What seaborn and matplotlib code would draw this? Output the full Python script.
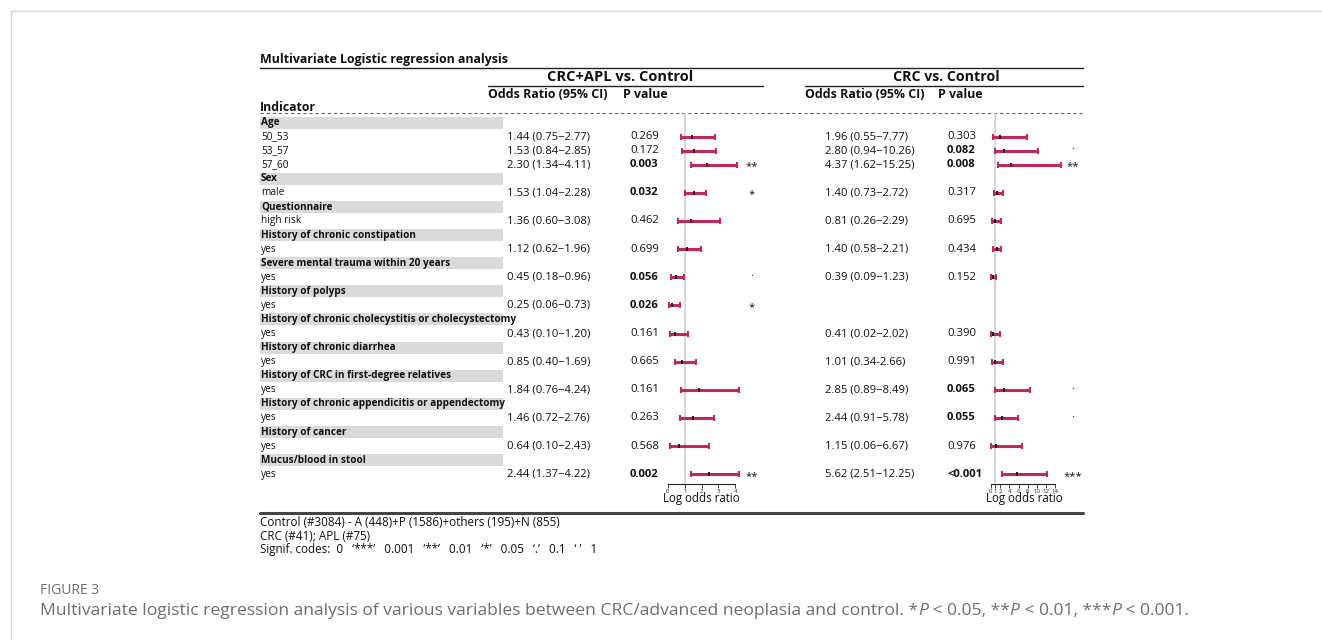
import numpy as np
import pandas as pd
import matplotlib
matplotlib.use("Agg")
import matplotlib.pyplot as plt
import seaborn as sns
from matplotlib.patches import Rectangle

sns.set_theme(style="white")
plt.rcParams["font.family"] = ["Open Sans", "DejaVu Sans"]

# ---------------- data ----------------
groups = [
    ("Age", ["50_53", "53_57", "57_60"]),
    ("Sex", ["male"]),
    ("Questionnaire", ["high risk"]),
    ("History of chronic constipation", ["yes"]),
    ("Severe mental trauma within 20 years", ["yes"]),
    ("History of polyps", ["yes"]),
    ("History of chronic cholecystitis or cholecystectomy", ["yes"]),
    ("History of chronic diarrhea", ["yes"]),
    ("History of CRC in first-degree relatives", ["yes"]),
    ("History of chronic appendicitis or appendectomy", ["yes"]),
    ("History of cancer", ["yes"]),
    ("Mucus/blood in stool", ["yes"]),
]

# CRC+APL vs. Control
apl_or = [1.44, 1.53, 2.30, 1.53, 1.36, 1.12, 0.45, 0.25, 0.43, 0.85, 1.84, 1.46, 0.64, 2.44]
apl_lo = [0.75, 0.84, 1.34, 1.04, 0.60, 0.62, 0.18, 0.06, 0.10, 0.40, 0.76, 0.72, 0.10, 1.37]
apl_hi = [2.77, 2.85, 4.11, 2.28, 3.08, 1.96, 0.96, 0.73, 1.20, 1.69, 4.24, 2.76, 2.43, 4.22]
apl_p = ["0.269", "0.172", "0.003", "0.032", "0.462", "0.699", "0.056", "0.026",
         "0.161", "0.665", "0.161", "0.263", "0.568", "0.002"]
apl_sig = ["", "", "**", "*", "", "", "\u00b7", "*", "", "", "", "", "", "**"]

# CRC vs. Control (no estimate for history of polyps)
crc_or = [1.96, 2.80, 4.37, 1.40, 0.81, 1.40, 0.39, np.nan, 0.41, 1.01, 2.85, 2.44, 1.15, 5.62]
crc_lo = [0.55, 0.94, 1.62, 0.73, 0.26, 0.58, 0.09, np.nan, 0.02, 0.34, 0.89, 0.91, 0.06, 2.51]
crc_hi = [7.77, 10.26, 15.25, 2.72, 2.29, 2.21, 1.23, np.nan, 2.02, 2.66, 8.49, 5.78, 6.67, 12.25]
crc_p = ["0.303", "0.082", "0.008", "0.317", "0.695", "0.434", "0.152", "",
         "0.390", "0.991", "0.065", "0.055", "0.976", "<0.001"]
crc_sig = ["", "\u00b7", "**", "", "", "", "", "", "", "", "\u00b7", "\u00b7", "", "***"]
crc_sep = ["\u2212"] * 9 + ["-"] + ["\u2212"] * 4

apl_ticks = [0, 1, 2, 3, 4]
crc_ticks = [0, 1, 2, 4, 6, 8, 10, 12, 14]

# ---------------- layout helpers ----------------
W, H = 1322, 640
fig = plt.figure(figsize=(W / 100, H / 100), dpi=100)
base = fig.add_axes([0, 0, 1, 1])
base.set_xlim(0, W)
base.set_ylim(H, 0)
base.axis("off")


def px_axes(x0, y0, x1, y1):
    return fig.add_axes([x0 / W, 1 - y1 / H, (x1 - x0) / W, (y1 - y0) / H])


def txt(x, y, s, size=8, weight="normal", ha="left", color="#111111", **kw):
    return base.text(x, y, s, fontsize=size, fontweight=weight, ha=ha, va="center",
                     color=color, **kw)


# outer card border
base.add_patch(Rectangle((11, 11), 1400, 700, fill=False, edgecolor="#d6d6d6", lw=1.0))

LX = 260
RX = 1083
row0, step = 122.5, 14.07

# header block
txt(LX, 59, "Multivariate Logistic regression analysis", size=8.9, weight="bold")
base.plot([LX, RX], [68, 68], color="#222222", lw=1.0)
txt(620, 77, "CRC+APL vs. Control", size=10.5, weight="bold", ha="center")
txt(946, 77, "CRC vs. Control", size=10.2, weight="bold", ha="center")
base.plot([488, 763], [85.7, 85.7], color="#222222", lw=1.0)
base.plot([805, RX], [85.7, 85.7], color="#222222", lw=1.0)
for x_or, x_p in [(488, 623), (805, 938)]:
    txt(x_or, 94, "Odds Ratio (95% CI)", size=8.9, weight="bold")
    txt(x_p, 94, "P value", size=8.9, weight="bold")
txt(LX, 107.5, "Indicator", size=8.9, weight="bold")
base.plot([LX, RX], [113, 113], color="#666666", lw=0.8, ls=(0, (3, 2.5)))

# rows
rows = []
for head, levels in groups:
    rows.append((head, True))
    for lv in levels:
        rows.append((lv, False))

est_rows = []
for i, (label, is_head) in enumerate(rows):
    y = row0 + i * step
    if is_head:
        base.add_patch(Rectangle((LX, y - 6.0), 503 - LX, 12.0, color="#dadada", lw=0))
        txt(LX + 1, y, label, size=7.2, weight="bold")
    else:
        txt(LX + 1, y, label, size=7.3)
        est_rows.append(i)

for k, i in enumerate(est_rows):
    y = row0 + i * step
    txt(507, y, f"{apl_or[k]:.2f} ({apl_lo[k]:.2f}\u2212{apl_hi[k]:.2f})", size=8.1)
    bold = float(apl_p[k]) < 0.1
    txt(630, y, apl_p[k], size=8.1, weight="bold" if bold else "normal")
    txt(752, y + (2 if apl_sig[k] != "\u00b7" else 0), apl_sig[k], size=8.1, ha="center")
    if not np.isnan(crc_or[k]):
        txt(825, y, f"{crc_or[k]:.2f} ({crc_lo[k]:.2f}{crc_sep[k]}{crc_hi[k]:.2f})", size=8.1)
        pv = crc_p[k]
        bold = pv.startswith("<") or float(pv) < 0.1
        txt(947, y, pv, size=8.1, weight="bold" if bold else "normal")
        txt(1073, y + (2 if crc_sig[k] != "\u00b7" else 0), crc_sig[k], size=8.1, ha="center")

# ---------------- forest panels ----------------
est_y = [float(i) for i in est_rows]
apl_df = pd.DataFrame({"row": est_y, "or": apl_or, "lo": apl_lo, "hi": apl_hi})
crc_df = pd.DataFrame({"row": est_y, "or": crc_or, "lo": crc_lo, "hi": crc_hi}).dropna()

y_top, y_bot = 113, 484
ylim = ((y_bot - row0) / step, (y_top - row0) / step)
BAR = "#c0285a"


def forest(ax, df, zero_px, unit_px, x0, x1, ticks):
    ax.set_xlim((x0 - zero_px) / unit_px, (x1 - zero_px) / unit_px)
    ax.set_ylim(*ylim)
    ax.axvline(1, color="#cfcfcf", lw=1.2, zorder=0)
    ax.hlines(df["row"], df["lo"], df["hi"], color=BAR, lw=2.2, zorder=2)
    sns.scatterplot(data=df, x="lo", y="row", marker="|", s=22, color=BAR,
                    linewidth=1.5, ax=ax, zorder=3, legend=False)
    sns.scatterplot(data=df, x="hi", y="row", marker="|", s=22, color=BAR,
                    linewidth=1.5, ax=ax, zorder=3, legend=False)
    sns.scatterplot(data=df, x="or", y="row", marker="|", s=12, color="#111111",
                    linewidth=1.3, ax=ax, zorder=4, legend=False)
    for s in ["top", "right", "left"]:
        ax.spines[s].set_visible(False)
    ax.spines["bottom"].set_bounds(ticks[0], ticks[-1])
    ax.spines["bottom"].set_color("#222222")
    ax.spines["bottom"].set_linewidth(0.8)
    ax.set_xticks(ticks)
    ax.set_xticklabels([str(t) for t in ticks])
    ax.tick_params(axis="x", length=3, width=0.6, pad=0.5, labelsize=4.4, colors="#222222",
                   bottom=True, direction="out")
    ax.set_yticks([])
    ax.set_ylabel("")
    ax.set_xlabel("Log odds ratio", fontsize=8.3, labelpad=-1, color="#111111")
    ax.patch.set_alpha(0)


ax_l = px_axes(655, y_top, 748, y_bot)
forest(ax_l, apl_df, 668, 16.8, 655, 748, apl_ticks)
ax_r = px_axes(980, y_top, 1068, y_bot)
forest(ax_r, crc_df, 990.8, 4.62, 980, 1068, crc_ticks)

# ---------------- footer ----------------
base.plot([LX, RX], [512.5, 512.5], color="#444444", lw=2.2)
txt(LX, 523, "Control (#3084) - A (448)+P (1586)+others (195)+N (855)", size=8.4)
txt(LX, 536, "CRC (#41); APL (#75)", size=8.4)
txt(LX, 549, "Signif. codes:  0   \u2018***\u2019   0.001   \u2018**\u2019   0.01   \u2018*\u2019   "
             "0.05   \u2018.\u2019   0.1   \u2018 \u2019   1", size=8.4)

cap_color = "#6e6e6e"
txt(40, 590, "FIGURE 3", size=10.0, color=cap_color)

# caption with italic P
pieces = [("Multivariate logistic regression analysis of various variables between "
           "CRC/advanced neoplasia and control. *", "normal"),
          ("P", "italic"), (" < 0.05, **", "normal"), ("P", "italic"),
          (" < 0.01, ***", "normal"), ("P", "italic"), (" < 0.001.", "normal")]
fig.canvas.draw()
renderer = fig.canvas.get_renderer()
x = 40.0
for s, style in pieces:
    t = txt(x, 611, s, size=12.6, color=cap_color, style=style)
    bb = t.get_window_extent(renderer=renderer)
    x += bb.width

fig.savefig("out.png", dpi=100, facecolor="white")
